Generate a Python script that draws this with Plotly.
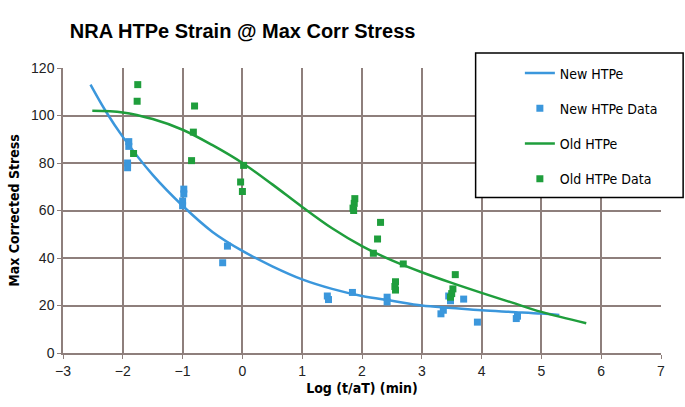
import plotly.graph_objects as go

# fitted curves
new_curve_x = [-2.54, -2.29, -2.0, -1.5, -1.0, -0.5, 0.0, 0.5, 1.0, 1.5, 2.0, 2.5, 3.0, 3.5, 4.0, 4.5, 5.0, 5.3]
new_curve_y = [113, 102, 91, 75, 62, 51, 43, 36.5, 31, 27, 24, 22, 20, 19, 18, 17.3, 16.6, 16]
old_curve_x = [-2.51, -2.0, -1.5, -1.0, -0.5, 0.0, 0.5, 1.0, 1.5, 2.0, 2.5, 3.0, 3.5, 4.0, 4.5, 5.0, 5.75]
old_curve_y = [102, 101.3, 98.5, 94, 87.5, 80, 71, 61.5, 52.5, 45, 39, 34, 29.5, 25.3, 21.3, 17.3, 12.5]

# test points
new_data_x = [-1.9, -1.9, -1.92, -1.92, -0.98, -0.98, -1.0, -1.0, -0.25, -0.33,
              1.42, 1.44, 1.84, 2.42, 2.42, 3.32, 3.36, 3.45, 3.48, 3.70, 3.93, 4.58, 4.6]
new_data_y = [89, 87, 80, 78, 69, 67, 64, 62, 45, 38,
              24, 22.5, 25.5, 23.5, 21.5, 16.5, 18, 24, 22, 22.7, 13, 14.5, 15.5]
old_data_x = [-1.75, -1.76, -1.82, -0.8, -0.82, -0.85, 0.02, -0.03, 0.0,
              1.88, 1.87, 1.85, 1.86, 2.31, 2.26, 2.19, 2.69, 2.56, 2.55, 2.56,
              3.56, 3.52, 3.5, 3.48]
old_data_y = [113, 106, 84, 104, 93, 81, 79, 72, 68,
              65, 63, 61, 60, 55, 48, 42, 37.5, 30, 28, 26.5,
              33, 27, 25, 23.5]

x_ticks = [-3, -2, -1, 0, 1, 2, 3, 4, 5, 6, 7]
y_ticks = [0, 20, 40, 60, 80, 100, 120]

blue = '#3b97dc'
green = '#1f9e3c'
grid = '#8e7f7c'
narrow = 'Liberation Sans Narrow, Arial Narrow, DejaVu Sans Condensed, Liberation Sans, Arial'

fig = go.Figure()
fig.add_trace(go.Scatter(x=new_curve_x, y=new_curve_y, mode='lines', name='New HTPe',
                         line=dict(color=blue, width=2.5, shape='spline'), legendgroup='a'))
fig.add_trace(go.Scatter(x=new_data_x, y=new_data_y, mode='markers', name='New HTPe Data',
                         marker=dict(color=blue, symbol='square', size=7), legendgroup='b'))
fig.add_trace(go.Scatter(x=old_curve_x, y=old_curve_y, mode='lines', name='Old HTPe',
                         line=dict(color=green, width=2.5, shape='spline'), legendgroup='c'))
fig.add_trace(go.Scatter(x=old_data_x, y=old_data_y, mode='markers', name='Old HTPe Data',
                         marker=dict(color=green, symbol='square', size=7), legendgroup='d'))

# legend frame
fig.add_shape(type='rect', xref='paper', yref='paper', x0=0.69, x1=1.037, y0=0.546, y1=1.053,
              line=dict(color='black', width=1.5), fillcolor='white', layer='above')

fig.update_layout(
    width=685, height=407,
    margin=dict(l=63, r=24, t=68, b=54),
    paper_bgcolor='white', plot_bgcolor='white',
    title=dict(text='<b>NRA HTPe Strain @ Max Corr Stress</b>', x=0.102, xanchor='left',
               y=0.925, yanchor='middle', font=dict(family='Liberation Sans, Arial', size=20, color='black')),
    legend=dict(x=0.764, y=1.037, xanchor='left', yanchor='top', bgcolor='rgba(0,0,0,0)',
                borderwidth=0, tracegroupgap=14, traceorder='grouped',
                font=dict(family=narrow, size=14, color='black')),
    font=dict(family='Liberation Sans, Arial', color='#222'),
)
fig.update_xaxes(range=[-3, 7], tickvals=x_ticks, showgrid=True, gridcolor=grid, gridwidth=1.5,
                 zeroline=False, showline=True, linecolor=grid, linewidth=1.5,
                 ticks='outside', ticklen=4, tickcolor=grid, tickfont=dict(size=14),
                 title=dict(text='<b>Log (t/aT) (min)</b>', font=dict(family=narrow, size=14, color='black'),
                            standoff=6))
fig.update_yaxes(range=[0, 120], tickvals=y_ticks, showgrid=True, gridcolor=grid, gridwidth=1.5,
                 zeroline=False, showline=True, linecolor=grid, linewidth=1.5,
                 ticks='outside', ticklen=4, tickcolor=grid, tickfont=dict(size=14),
                 title=dict(text='<b>Max Corrected Stress</b>', font=dict(family=narrow, size=14, color='black'),
                            standoff=8))

fig.write_html("out.html", config={'displayModeBar': False},
               post_script="document.body.style.margin='0';")
